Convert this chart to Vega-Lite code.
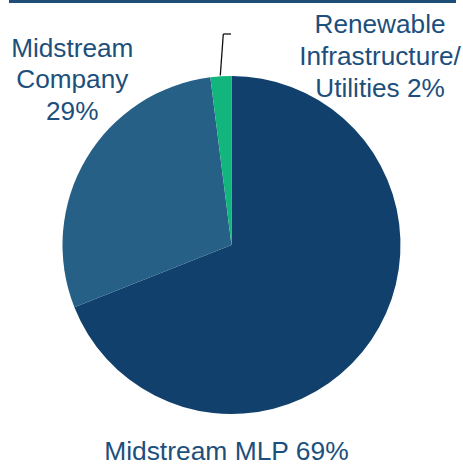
{
  "$schema": "https://vega.github.io/schema/vega-lite/v6.json",
  "width": 463,
  "height": 440,
  "autosize": {"type": "none"},
  "padding": {"left": 0, "right": 0, "top": 25, "bottom": 0},
  "background": "white",
  "config": {"view": {"stroke": null}},
  "data": {
    "values": [
      {"segment": "Midstream MLP", "share": 69, "label": "Midstream MLP 69%"},
      {"segment": "Midstream Company", "share": 29, "label": "Midstream\nCompany\n29%"},
      {"segment": "Renewable Infrastructure/Utilities", "share": 2, "label": "Renewable\nInfrastructure/\nUtilities 2%"}
    ]
  },
  "layer": [
    {
      "mark": {"type": "arc", "outerRadius": 169},
      "encoding": {
        "theta": {"field": "share", "type": "quantitative", "stack": true},
        "order": {"field": "share", "type": "quantitative", "sort": "descending"},
        "color": {
          "field": "segment",
          "type": "nominal",
          "scale": {
            "domain": ["Midstream MLP", "Midstream Company", "Renewable Infrastructure/Utilities"],
            "range": ["#10406B", "#276087", "#12B57B"]
          },
          "legend": null
        }
      }
    },
    {
      "transform": [{"filter": "datum.segment === 'Midstream MLP'"}],
      "mark": {"type": "text", "radius": 215.5, "theta": 3.1654, "align": "center", "baseline": "alphabetic", "lineBreak": "\n", "lineHeight": 31.5, "font": "Liberation Sans", "fontSize": 26.4, "color": "#1D4F7C"},
      "encoding": {"text": {"field": "label"}}
    },
    {
      "transform": [{"filter": "datum.segment === 'Midstream Company'"}],
      "mark": {"type": "text", "radius": 246.6, "theta": -0.702, "align": "center", "baseline": "alphabetic", "lineBreak": "\n", "lineHeight": 31.5, "font": "Liberation Sans", "fontSize": 26.2, "color": "#1D4F7C"},
      "encoding": {"text": {"field": "label"}}
    },
    {
      "transform": [{"filter": "datum.segment === 'Renewable Infrastructure/Utilities'"}],
      "mark": {"type": "text", "radius": 258.6, "theta": 0.6117, "align": "center", "baseline": "alphabetic", "lineBreak": "\n", "lineHeight": 31.7, "font": "Liberation Sans", "fontSize": 26.2, "color": "#1D4F7C"},
      "encoding": {"text": {"field": "label"}}
    },
    {
      "data": {"values": [{}]},
      "mark": {"type": "rule", "color": "#111111", "strokeWidth": 1.3},
      "encoding": {"x": {"value": 220.3}, "y": {"value": 50.5}, "x2": {"value": 223.3}, "y2": {"value": 9}}
    },
    {
      "data": {"values": [{}]},
      "mark": {"type": "rule", "color": "#111111", "strokeWidth": 1.3},
      "encoding": {"x": {"value": 223.3}, "y": {"value": 9}, "x2": {"value": 231}, "y2": {"value": 9}}
    },
    {
      "data": {"values": [{}]},
      "mark": {"type": "rule", "color": "#1F4E79", "strokeWidth": 3},
      "encoding": {"x": {"value": 9}, "y": {"value": -23.5}, "x2": {"value": 456}, "y2": {"value": -23.5}}
    }
  ]
}
